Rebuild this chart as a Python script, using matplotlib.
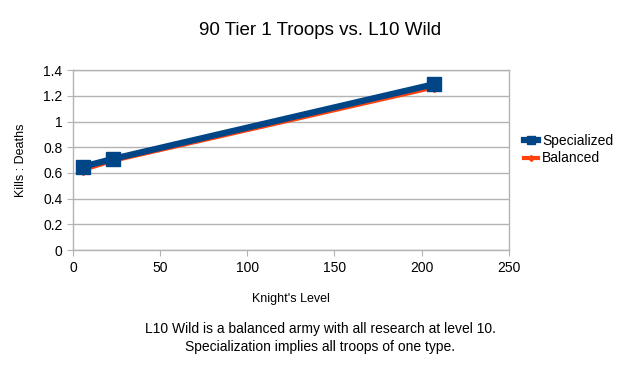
import matplotlib
matplotlib.use("Agg")
import matplotlib.pyplot as plt

knight_level = [6, 23, 207]
specialized = [0.65, 0.71, 1.29]
balanced = [0.625, 0.695, 1.265]
x_ticks = [0, 50, 100, 150, 200, 250]
y_ticks = [0, 0.2, 0.4, 0.6, 0.8, 1, 1.2, 1.4]

plt.rcParams['font.family'] = ['Liberation Sans', 'DejaVu Sans']

fig = plt.figure(figsize=(6.4, 3.79), dpi=100)
ax = fig.add_axes([0.114, 0.340, 0.681, 0.475])

grid_c = '#b3b3b3'
ax.plot(knight_level, balanced, color='#ff420e', lw=3, marker='D', ms=5,
        label='Balanced', zorder=3)
ax.plot(knight_level, specialized, color='#004586', lw=4.5, marker='s', ms=10,
        label='Specialized', zorder=4)

ax.set_xlim(0, 250)
ax.set_ylim(0, 1.4)
ax.set_xticks(x_ticks)
ax.set_yticks(y_ticks)
ax.set_yticklabels(['0', '0.2', '0.4', '0.6', '0.8', '1', '1.2', '1.4'])
ax.yaxis.grid(True, color=grid_c, lw=1)
ax.set_axisbelow(True)
for s in ax.spines.values():
    s.set_color(grid_c)
    s.set_linewidth(1)
ax.tick_params(axis='both', colors=grid_c, labelcolor='black', labelsize=10,
               length=4, direction='out')

ax.set_xlabel("Knight's Level", fontsize=9, labelpad=13)
ax.set_ylabel("Kills : Deaths", fontsize=9, labelpad=12)

fig.text(0.5, 0.92, "90 Tier 1 Troops vs. L10 Wild", ha='center', va='center',
         fontsize=13.5)

handles, labels = ax.get_legend_handles_labels()
fig.legend(handles[::-1], labels[::-1], loc='center left',
           bbox_to_anchor=(0.81, 0.605), frameon=False, fontsize=10,
           handlelength=1.0, handletextpad=0.3, labelspacing=0.25,
           borderaxespad=0, markerscale=0.6)

fig.text(0.5, 0.108, "L10 Wild is a balanced army with all research at level 10.\n"
         "Specialization implies all troops of one type.",
         ha='center', va='center', fontsize=10, linespacing=1.35)

fig.savefig("out.png", dpi=100)
